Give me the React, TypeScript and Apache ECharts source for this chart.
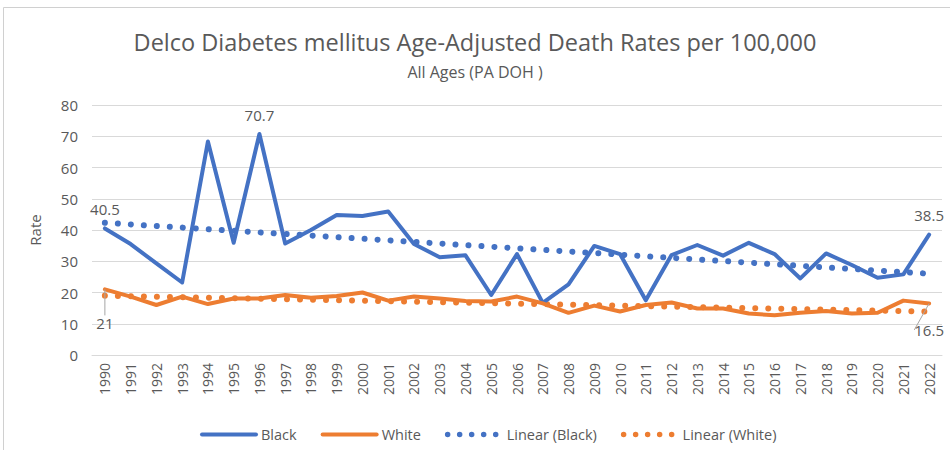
import React, { useEffect, useRef } from "react";
import * as echarts from "echarts";

const years = [
  "1990", "1991", "1992", "1993", "1994", "1995", "1996", "1997", "1998", "1999",
  "2000", "2001", "2002", "2003", "2004", "2005", "2006", "2007", "2008", "2009",
  "2010", "2011", "2012", "2013", "2014", "2015", "2016", "2017", "2018", "2019",
  "2020", "2021", "2022",
];

const blackRates = [
  40.5, 35.5, 29.3, 23.2, 68.3, 35.9, 70.7, 35.7, 40.0, 44.8,
  44.5, 45.9, 35.5, 31.3, 31.9, 19.2, 32.3, 16.7, 22.6, 34.9,
  32.3, 17.5, 32.0, 35.2, 31.8, 35.9, 32.3, 24.5, 32.5, 28.8,
  24.7, 25.8, 38.5,
];

const whiteRates = [
  21.0, 18.7, 16.0, 18.7, 16.3, 18.1, 18.1, 19.2, 18.3, 18.9,
  20.0, 17.4, 18.7, 18.1, 17.3, 17.1, 18.7, 16.5, 13.5, 15.8,
  13.9, 16.0, 16.8, 14.9, 14.9, 13.3, 12.7, 13.5, 14.1, 13.3,
  13.5, 17.4, 16.5,
];

// Trendline end values (first and last year)
const blackTrendEnds = [42.3, 26.0];
const whiteTrendEnds = [19.0, 13.9];

const blackLabelIdx = [0, 6, 32];
const whiteLabelIdx = [0, 32];

const yTicks = { min: 0, max: 80, interval: 10 };

const BLUE = "#4472C4";
const ORANGE = "#ED7D31";
const TEXT = "#595959";
const GRID = "#D9D9D9";
const FONT = "'Open Sans', 'Noto Sans', sans-serif";

export default function App() {
  const ref = useRef<HTMLDivElement>(null);

  useEffect(() => {
    if (!ref.current) return;
    const chart = echarts.init(ref.current, undefined, { renderer: "svg" });

    const blackData = blackRates.map((v, i) =>
      blackLabelIdx.includes(i)
        ? { value: v, label: { show: true, position: "top", distance: 12 } }
        : v
    );
    const whiteData = whiteRates.map((v, i) =>
      whiteLabelIdx.includes(i)
        ? {
            value: v,
            label: { show: true, position: "bottom", distance: 4 },
            labelLine: { show: true, lineStyle: { color: "#A6A6A6", width: 1 } },
          }
        : v
    );

    const last = years.length - 1;
    const solidLegend = { width: 4, cap: "round" };
    const dotLegend = { width: 5.5, type: [0.01, 12], cap: "round" };

    chart.setOption({
      animation: false,
      backgroundColor: "#ffffff",
      textStyle: { fontFamily: FONT },
      graphic: [
        {
          type: "rect",
          shape: { x: 3.5, y: 7.5, width: 1000, height: 500 },
          style: { fill: "none", stroke: "#D0D0D0", lineWidth: 1 },
          silent: true,
          z: -10,
        },
      ],
      title: [
        {
          text: "Delco Diabetes mellitus Age-Adjusted Death Rates per 100,000",
          left: "center",
          top: 25,
          textStyle: { fontFamily: FONT, fontSize: 23.5, fontWeight: "normal", color: TEXT },
        },
        {
          text: "All Ages (PA DOH )",
          left: "center",
          top: 59,
          textStyle: { fontFamily: FONT, fontSize: 16, fontWeight: "normal", color: TEXT },
        },
      ],
      legend: {
        left: 195,
        top: 422,
        itemWidth: 54,
        itemHeight: 14,
        itemGap: 24,
        textStyle: { fontFamily: FONT, fontSize: 14.5, color: TEXT },
        itemStyle: { opacity: 0 },
        data: [
          { name: "Black", lineStyle: solidLegend },
          { name: "White", lineStyle: solidLegend },
          { name: "Linear (Black)", lineStyle: dotLegend },
          { name: "Linear (White)", lineStyle: dotLegend },
        ],
      },
      grid: { left: 92, right: 8, top: 105, bottom: 95 },
      xAxis: {
        type: "category",
        data: years,
        boundaryGap: true,
        axisLine: { show: true, lineStyle: { color: GRID, width: 1 } },
        axisTick: { show: false },
        axisLabel: {
          rotate: 90,
          interval: 0,
          margin: 8,
          fontFamily: FONT,
          fontSize: 14,
          color: TEXT,
        },
        splitLine: { show: false },
      },
      yAxis: {
        type: "value",
        min: yTicks.min,
        max: yTicks.max,
        interval: yTicks.interval,
        name: "Rate",
        nameLocation: "middle",
        nameGap: 50,
        nameRotate: 90,
        nameTextStyle: { fontFamily: FONT, fontSize: 15, color: TEXT },
        axisLine: { show: false },
        axisTick: { show: false },
        axisLabel: { margin: 14, fontFamily: FONT, fontSize: 15, color: TEXT },
        splitLine: { show: true, lineStyle: { color: GRID, width: 1 } },
      },
      series: [
        {
          name: "Black",
          type: "line",
          data: blackData,
          showSymbol: true,
          symbol: "circle",
          symbolSize: 0,
          itemStyle: { color: BLUE },
          lineStyle: { color: BLUE, width: 4, cap: "round", join: "round" },
          label: { show: false, fontFamily: FONT, fontSize: 15, color: TEXT },
          z: 3,
        },
        {
          name: "White",
          type: "line",
          data: whiteData,
          showSymbol: true,
          symbol: "circle",
          symbolSize: 0,
          itemStyle: { color: ORANGE },
          lineStyle: { color: ORANGE, width: 4, cap: "round", join: "round" },
          label: { show: false, fontFamily: FONT, fontSize: 15, color: TEXT },
          labelLayout: (params: any) =>
            params.dataIndex === 0 ? { dy: 22 } : { dy: 15 },
          z: 3,
        },
        {
          name: "Linear (Black)",
          type: "line",
          data: [
            [years[0], blackTrendEnds[0]],
            [years[last], blackTrendEnds[1]],
          ],
          showSymbol: false,
          symbol: "none",
          itemStyle: { color: BLUE },
          lineStyle: { color: BLUE, width: 6, type: [0.01, 13], cap: "round" },
          z: 2,
        },
        {
          name: "Linear (White)",
          type: "line",
          data: [
            [years[0], whiteTrendEnds[0]],
            [years[last], whiteTrendEnds[1]],
          ],
          showSymbol: false,
          symbol: "none",
          itemStyle: { color: ORANGE },
          lineStyle: { color: ORANGE, width: 6, type: [0.01, 13], cap: "round" },
          z: 2,
        },
      ],
    });

    return () => chart.dispose();
  }, []);

  return (
    <div
      ref={ref}
      style={{ position: "absolute", left: 0, top: 0, width: 950, height: 450 }}
    />
  );
}
